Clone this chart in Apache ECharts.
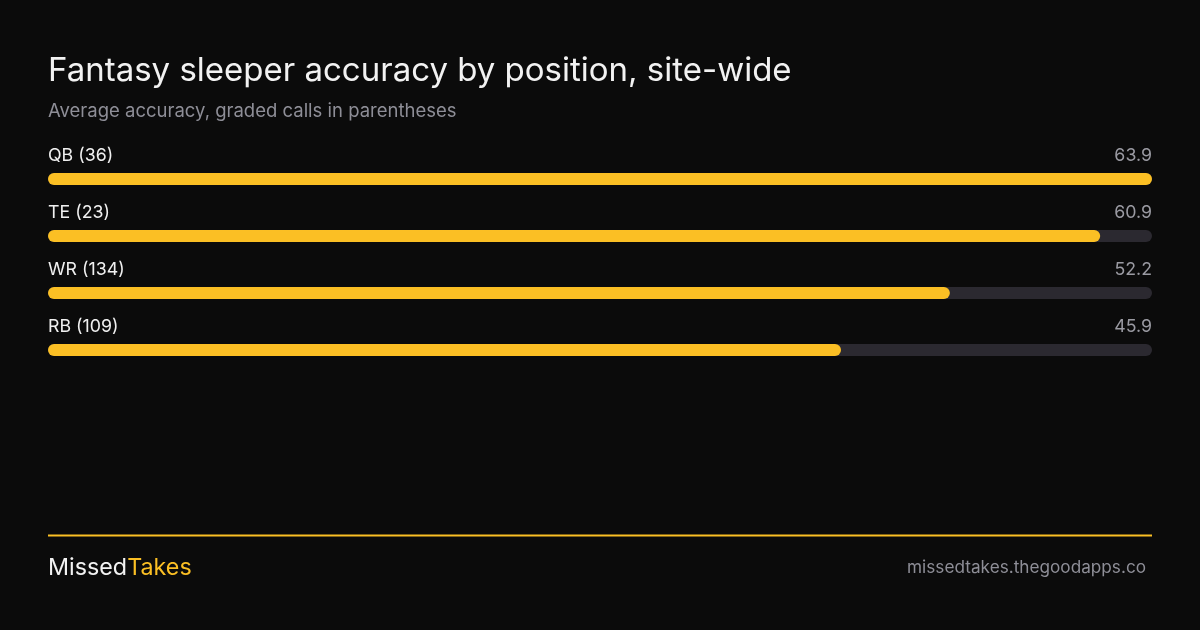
<!DOCTYPE html>
<html><head><meta charset="utf-8">
<script src="https://cdn.jsdelivr.net/npm/echarts@6/dist/echarts.min.js"></script>
<style>html,body{margin:0;padding:0;background:#0b0b0b;}#c{width:1200px;height:630px;}</style>
</head><body><div id="c"></div>
<script>
const categories = ['QB (36)', 'TE (23)', 'WR (134)', 'RB (109)'];
const accuracy = [63.9, 60.9, 52.2, 45.9];
const valueLabels = ['63.9', '60.9', '52.2', '45.9'];

const FONT = 'Inter, "Noto Sans", sans-serif';
const YELLOW = '#fbbf24';
const chart = echarts.init(document.getElementById('c'));
chart.setOption({
  backgroundColor: '#0b0b0b',
  animation: false,
  title: [{
    text: 'Fantasy sleeper accuracy by position, site-wide',
    left: 48, top: 55, padding: 0,
    textStyle: { color: '#f2f2f2', fontFamily: FONT, fontSize: 33, fontWeight: 400 }
  }, {
    text: 'Average accuracy, graded calls in parentheses',
    left: 48, top: 102, padding: 0,
    textStyle: { color: '#8e8e97', fontFamily: FONT, fontSize: 18.5, fontWeight: 400 }
  }],
  grid: { left: 48, right: 48, top: 150.5, height: 228 },
  xAxis: { type: 'value', min: 0, max: Math.max(...accuracy), show: false },
  yAxis: [{
    type: 'category', data: categories, inverse: true, position: 'left',
    axisLine: { show: false }, axisTick: { show: false },
    axisLabel: { inside: true, margin: 0, align: 'left', verticalAlign: 'bottom',
      padding: [0, 0, 14, 0], color: '#f0f0f0', fontFamily: FONT, fontSize: 17.8 }
  }, {
    type: 'category', data: valueLabels, inverse: true, position: 'right',
    axisLine: { show: false }, axisTick: { show: false },
    axisLabel: { inside: true, margin: 0, align: 'right', verticalAlign: 'bottom',
      padding: [0, 0, 14, 0], color: '#9a9aa2', fontFamily: FONT, fontSize: 17.8 }
  }],
  series: [{
    type: 'bar', data: accuracy, barWidth: 12,
    itemStyle: { color: YELLOW, borderRadius: 6 },
    showBackground: true,
    backgroundStyle: { color: '#2b2930', borderRadius: 6 }
  }],
  graphic: [
    { type: 'rect', shape: { x: 48, y: 534.5, width: 1104, height: 2 }, style: { fill: YELLOW } },
    { type: 'text', left: 48, top: 556,
      style: { text: '{a|Missed}{b|Takes}', rich: {
        a: { fill: '#f2f2f2', fontFamily: FONT, fontSize: 23.3 },
        b: { fill: YELLOW, fontFamily: FONT, fontSize: 23.3 } } } },
    { type: 'text', right: 54, top: 559,
      style: { text: 'missedtakes.thegoodapps.co', fill: '#8e8e97', fontFamily: FONT, fontSize: 17.2 } }
  ]
});
</script></body></html>
